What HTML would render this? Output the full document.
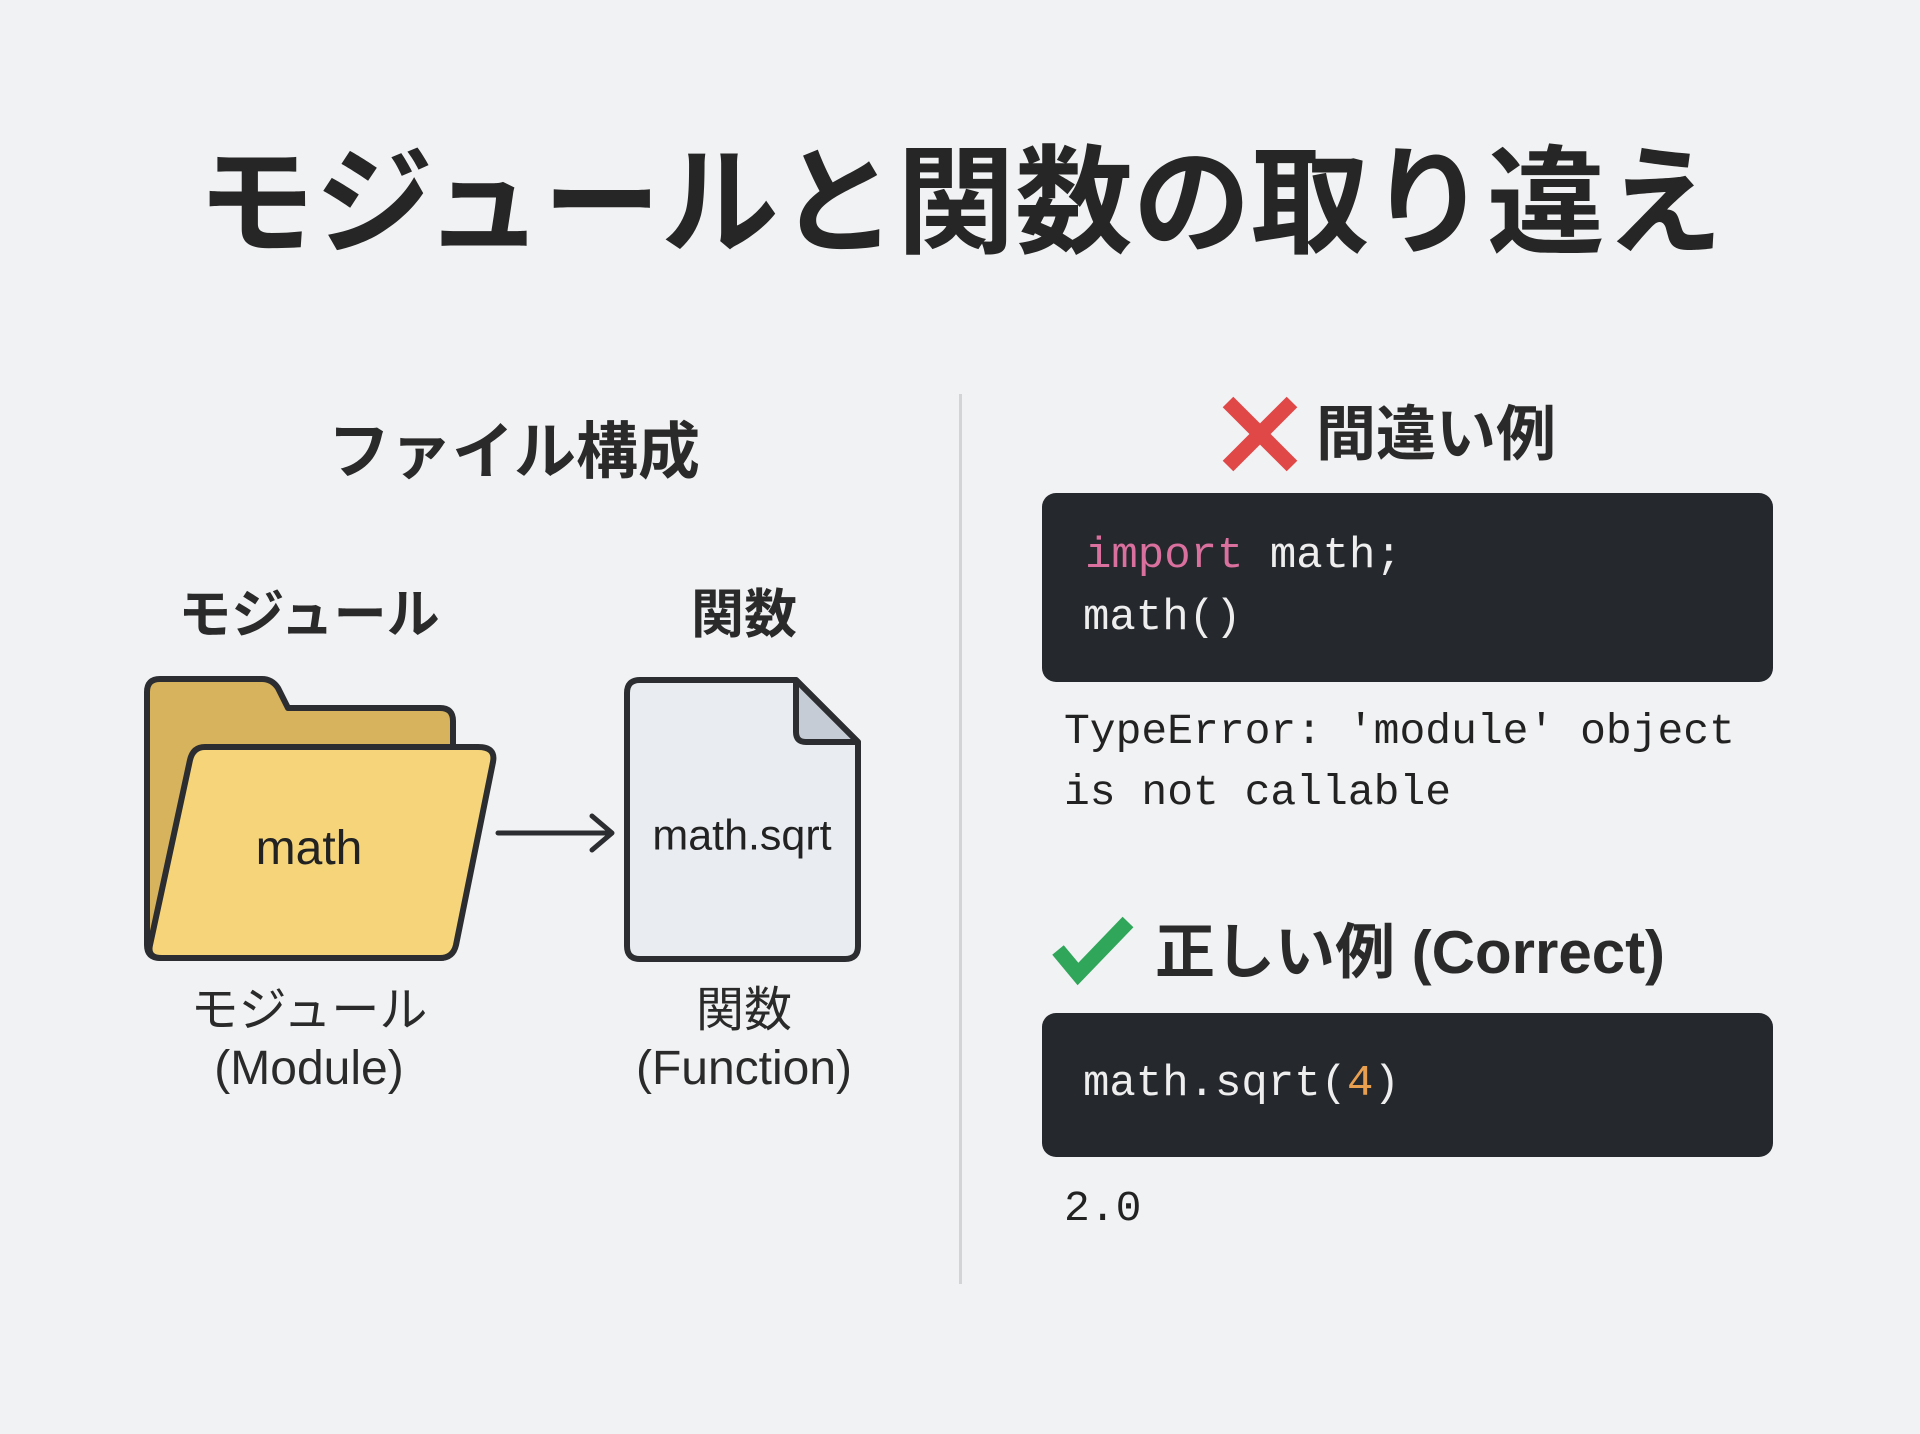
<!DOCTYPE html>
<html><head><meta charset="utf-8"><style>
html,body{margin:0;padding:0}
body{width:1920px;height:1434px;background:#f1f2f3;position:relative;overflow:hidden;font-family:"Liberation Sans","Noto Sans CJK JP",sans-serif;color:#222}
.t{position:absolute;white-space:nowrap;line-height:1}
.c{transform:translate(-50%,-50%)}
.m{font-family:"Liberation Mono","DejaVu Sans Mono",monospace}
.code{position:absolute;background:#25282d;border-radius:14px}
</style></head><body>

<div class="t c" style="left:960px;top:204px;font-size:118px;font-weight:bold;color:#262626">モジュールと関数の取り違え</div>

<div style="position:absolute;left:959px;top:394px;width:3px;height:890px;background:#d2d4d6"></div>

<div class="t c" style="left:514px;top:453px;font-size:62px;font-weight:bold;color:#2a2a2a">ファイル構成</div>
<div class="t c" style="left:309px;top:615px;font-size:53px;font-weight:bold;color:#2a2a2a">モジュール</div>
<div class="t c" style="left:744px;top:615px;font-size:53px;font-weight:bold;color:#2a2a2a">関数</div>

<svg style="position:absolute;left:0;top:0" width="1920" height="1434">
  <path d="M160 679 H262 Q272 679 278 688 L288 708 H440 Q453 708 453 721 V945 Q453 958 440 958 H160 Q147 958 147 945 V692 Q147 679 160 679 Z" fill="#d8b35d" stroke="#2b2d30" stroke-width="6" stroke-linejoin="round"/>
  <path d="M205 747 H478 Q496 747 493 762 L456 945 Q453 958 440 958 H162 Q147 958 150 945 L190 760 Q193 747 205 747 Z" fill="#f6d57a" stroke="#2b2d30" stroke-width="6" stroke-linejoin="round"/>
  <line x1="498" y1="833" x2="610" y2="833" stroke="#2b2d30" stroke-width="5" stroke-linecap="round"/>
  <polyline points="592,816 612,833 592,850" fill="none" stroke="#2b2d30" stroke-width="5" stroke-linecap="round" stroke-linejoin="round"/>
  <path d="M640 680 H796 L858 742 V946 Q858 959 845 959 H640 Q627 959 627 946 V693 Q627 680 640 680 Z" fill="#e9ecf0" stroke="#2b2d30" stroke-width="6" stroke-linejoin="round"/>
  <path d="M796 680 V732 Q796 742 806 742 H858 Z" fill="#c5ccd5" stroke="#2b2d30" stroke-width="6" stroke-linejoin="round"/>
  <line x1="1228" y1="402" x2="1292" y2="466" stroke="#e04848" stroke-width="15"/>
  <line x1="1292" y1="402" x2="1228" y2="466" stroke="#e04848" stroke-width="15"/>
  <polyline points="1058,950 1078,974 1128,922" fill="none" stroke="#2fa65a" stroke-width="15" stroke-linejoin="miter"/>
</svg>

<div class="t c" style="left:309px;top:849px;font-size:48px;color:#222">math</div>
<div class="t c" style="left:742px;top:836px;font-size:43px;color:#222">math.sqrt</div>

<div class="t c" style="left:309px;top:1011px;font-size:48px;color:#2a2a2a">モジュール</div>
<div class="t c" style="left:309px;top:1069px;font-size:48px;color:#2a2a2a">(Module)</div>
<div class="t c" style="left:744px;top:1011px;font-size:48px;color:#2a2a2a">関数</div>
<div class="t c" style="left:744px;top:1069px;font-size:48px;color:#2a2a2a">(Function)</div>

<div class="t" style="left:1316px;top:405px;font-size:60px;font-weight:bold;color:#2a2a2a">間違い例</div>

<div class="code" style="left:1042px;top:493px;width:731px;height:189px"></div>
<div class="t m" style="left:1085px;top:534px;font-size:44px;color:#eee"><span style="color:#d9709e">import</span> math;</div>
<div class="t m" style="left:1083px;top:596px;font-size:44px;color:#eee">math()</div>

<div class="t m" style="left:1064px;top:710px;font-size:43px;color:#222">TypeError: 'module' object</div>
<div class="t m" style="left:1064px;top:771px;font-size:43px;color:#222">is not callable</div>

<div class="t" style="left:1155px;top:923px;font-size:60px;font-weight:bold;color:#2a2a2a">正しい例 (Correct)</div>

<div class="code" style="left:1042px;top:1013px;width:731px;height:144px"></div>
<div class="t m" style="left:1083px;top:1062px;font-size:44px;color:#eee">math.sqrt(<span style="color:#e8a050">4</span>)</div>

<div class="t m" style="left:1064px;top:1187px;font-size:43px;color:#222">2.0</div>

</body></html>
